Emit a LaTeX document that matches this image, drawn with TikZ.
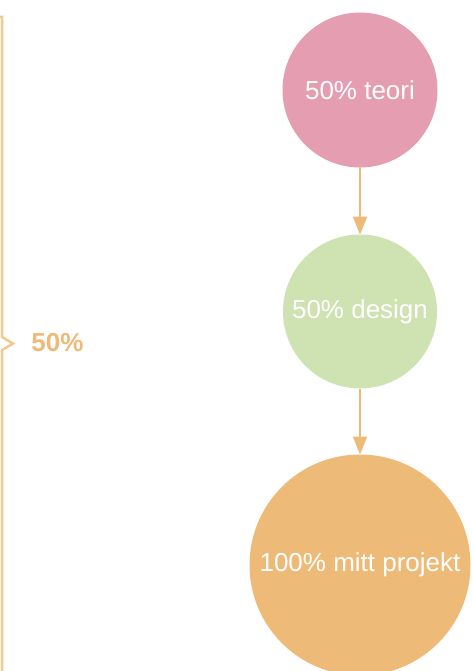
\documentclass[tikz,border=0pt]{standalone}
\usepackage{fontspec}
\setmainfont{Liberation Sans}
\usepackage{tikz}
\usetikzlibrary{positioning,arrows.meta}
\tikzset{pil/.style={line width=2pt, draw=pastelorange, -{Triangle[length=18pt,width=14pt]}}}
\tikzset{steg/.style={circle, inner sep=0pt, outer sep=0pt, text=white, font=\fontsize{26}{30}\selectfont}}
\definecolor{pastelpink}{RGB}{229,157,178}
\definecolor{pastelgreen}{RGB}{207,226,178}
\definecolor{pastelorange}{RGB}{238,186,120}
\definecolor{klammer}{RGB}{244,200,142}

\begin{document}
\begin{tikzpicture}[x=1pt, y=-1pt]
            \useasboundingbox (0,0) rectangle (472,671);
            \node[steg, fill=pastelpink, minimum size=155pt] (teori) at (360,90) {50\% teori};
            \node[steg, fill=pastelgreen, minimum size=154pt, below = 67pt of teori] (design) {50\% design};
            \node[steg, fill=pastelorange, minimum size=221pt, below = 66pt of design] (projekt) {100\% mitt projekt};

            \draw[pil] (teori) to (design);
            \draw[pil] (design) to (projekt);

            % klammer till vänster
            \draw[klammer, line width=2.5pt, line join=miter]
                (-6,17) -- (2,17) -- (2,337) -- (13,343.5) -- (2,350) -- (2,680) -- (-6,680);
            \node[text=pastelorange, font=\bfseries\fontsize{26}{30}\selectfont] (andel) at (57.5,343) {50\%};
        \end{tikzpicture}
\end{document}
